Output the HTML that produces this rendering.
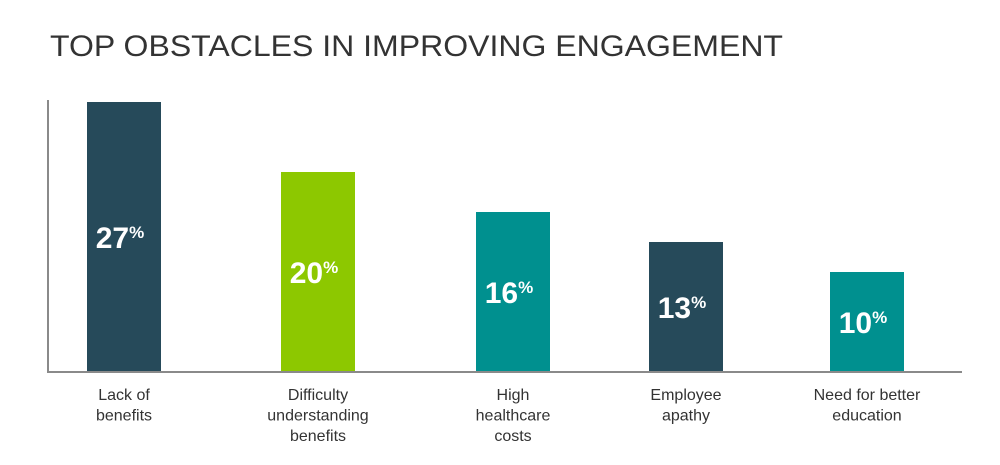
<!DOCTYPE html>
<html><head><meta charset="utf-8"><style>
html,body{margin:0;padding:0;background:#fff;width:1000px;height:465px;overflow:hidden}
svg{display:block;font-family:"Liberation Sans",sans-serif}
</style></head><body>
<svg id="chart" width="1000" height="465">
<text x="50" y="56" font-size="30" fill="#333" textLength="733" lengthAdjust="spacingAndGlyphs">TOP OBSTACLES IN IMPROVING ENGAGEMENT</text>
<line x1="48" y1="100" x2="48" y2="372" stroke="#8a8a8a" stroke-width="2"/>
<line x1="47" y1="372" x2="962" y2="372" stroke="#8a8a8a" stroke-width="2"/>
</svg>
<script>
const categories=[["Lack of","benefits"],["Difficulty","understanding","benefits"],["High","healthcare","costs"],["Employee","apathy"],["Need for better","education"]];
const values=[27,20,16,13,10];
const colors=["#264a5a","#8dc800","#00908f","#264a5a","#00908f"];
const centers=[124,318,513,686,867];
const baseY=372, pxPerUnit=10, barW=74;
function y(v){return baseY-v*pxPerUnit;}
const svg=document.getElementById('chart');
const NS="http://www.w3.org/2000/svg";
values.forEach((v,i)=>{
  const r=document.createElementNS(NS,'rect');
  r.setAttribute('x',centers[i]-barW/2);r.setAttribute('y',y(v));
  r.setAttribute('width',barW);r.setAttribute('height',baseY-y(v));
  r.setAttribute('fill',colors[i]);
  
  
  svg.insertBefore(r,svg.children[1]);
  const t=document.createElementNS(NS,'text');
  t.setAttribute('x',centers[i]-4);t.setAttribute('y',(y(v)+baseY)/2+11);
  t.setAttribute('text-anchor','middle');t.setAttribute('fill','#fff');
  t.setAttribute('font-weight','bold');t.setAttribute('font-size','30');
  
  
  t.textContent=v;
  const p=document.createElementNS(NS,'tspan');
  p.setAttribute('font-size','17');p.setAttribute('dy','-10');
  p.textContent='%';t.appendChild(p);
  svg.appendChild(t);
  const c=document.createElementNS(NS,'text');
  c.setAttribute('text-anchor','middle');c.setAttribute('fill','#333');c.setAttribute('font-size','16');
  
  
  categories[i].forEach((ln,j)=>{
    const s=document.createElementNS(NS,'tspan');
    s.setAttribute('x',centers[i]);s.setAttribute('y',400+j*20.5);
    s.textContent=ln;c.appendChild(s);
  });
  svg.appendChild(c);
});
</script>
</body></html>
